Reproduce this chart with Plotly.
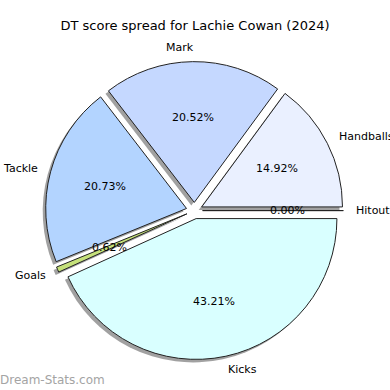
import numpy as np
import plotly.graph_objects as go

labels = ["Handballs", "Mark", "Tackle", "Goals", "Kicks", "Hitout"]
values = [14.92, 20.52, 20.73, 0.62, 43.21, 0.00]
colors = ["#eaf0ff", "#c5d8ff", "#b3d4ff", "#c5e17a", "#d9ffff", "#ffe4c4"]
title = "DT score spread for Lachie Cowan (2024)"
watermark = "Dream-Stats.com"

FONT = "DejaVu Sans"
W = H = 390
EXPLODE = 0.058       # offset of each wedge, fraction of radius
PCT_DIST = 0.6        # percentage text distance (fraction of radius)
LABEL_DIST = 1.1      # label distance (fraction of radius)
R_PX = 140.8          # pie radius in pixels
CX, CY = 194.4, 210.6 # pie centre in pixels (from top-left)

vals = np.array(values, dtype=float)
frac = vals / vals.sum()
# wedges start at 3 o'clock and go counter-clockwise
theta1 = np.concatenate([[0], np.cumsum(frac)[:-1]]) * 360
theta2 = np.cumsum(frac) * 360
mid = np.deg2rad((theta1 + theta2) / 2)

# plotly: with counter-clockwise direction the first slice ends at `rotation`
rotation = 90 - frac[0] * 360

half = R_PX * (1 + EXPLODE)
dom_x = [(CX - half) / W, (CX + half) / W]
dom_y = [1 - (CY + half) / H, 1 - (CY - half) / H]
sdx, sdy = -3 / W, -3 / H  # shadow offset

common = dict(
    labels=labels, values=values, sort=False, direction="counterclockwise",
    rotation=rotation, pull=[EXPLODE] * len(values), showlegend=False,
    hoverinfo="skip", textinfo="none",
)

fig = go.Figure()
fig.add_trace(go.Pie(
    **common,
    domain=dict(x=[dom_x[0] + sdx, dom_x[1] + sdx], y=[dom_y[0] + sdy, dom_y[1] + sdy]),
    marker=dict(colors=["rgba(110,110,110,0.65)"] * len(values), line=dict(width=0)),
))
fig.add_trace(go.Pie(
    **common,
    domain=dict(x=dom_x, y=dom_y),
    marker=dict(colors=colors, line=dict(color="#222222", width=1)),
))

# cartesian axes in "radius units" aligned with the pie, for text placement
xr = [(0 - CX) / R_PX, (W - CX) / R_PX]
yr = [-(H - CY) / R_PX, CY / R_PX]
hidden = dict(visible=False, showgrid=False, zeroline=False, fixedrange=True)
fig.update_xaxes(range=xr, domain=[0, 1], **hidden)
fig.update_yaxes(range=yr, domain=[0, 1], **hidden)

annotations = []
for lab, v, f, a in zip(labels, values, frac, mid):
    ox, oy = EXPLODE * np.cos(a), EXPLODE * np.sin(a)
    px, py = ox + PCT_DIST * np.cos(a), oy + PCT_DIST * np.sin(a)
    annotations.append(dict(
        text=f"{f * 100:.2f}%", x=px, y=py, xref="x", yref="y",
        xanchor="center", yanchor="middle", showarrow=False, borderpad=0,
        font=dict(family=FONT, size=11, color="black"),
    ))
    lx, ly = ox + LABEL_DIST * np.cos(a), oy + LABEL_DIST * np.sin(a)
    right_side = lx > 0
    annotations.append(dict(
        text=lab, x=lx, y=ly, xref="x", yref="y",
        xanchor="left" if right_side else "right", yanchor="middle",
        xshift=-2 if right_side else 2, showarrow=False, borderpad=0,
        font=dict(family=FONT, size=11, color="black"),
    ))
annotations.append(dict(
    text=watermark, xref="paper", yref="paper", x=0, y=0, xshift=-1, yshift=2,
    xanchor="left", yanchor="bottom", showarrow=False, borderpad=0,
    font=dict(family=FONT, size=12, color="#a4a4a4"),
))

fig.update_layout(
    width=W, height=H,
    margin=dict(l=0, r=0, t=0, b=0),
    paper_bgcolor="white", plot_bgcolor="rgba(0,0,0,0)",
    title=dict(text=title, x=0.5, xanchor="center", y=1 - 25 / H, yanchor="middle",
               font=dict(family=FONT, size=13, color="black")),
    annotations=annotations,
)

fig.write_html("out.html")
